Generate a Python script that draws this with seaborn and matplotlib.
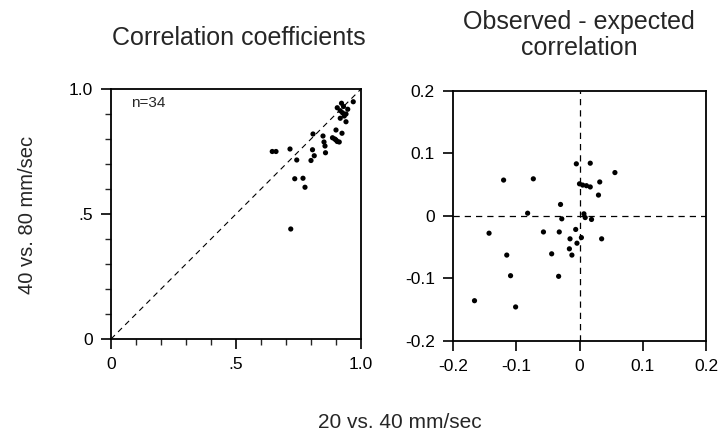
import matplotlib
matplotlib.use("Agg")
import matplotlib.pyplot as plt
from matplotlib.ticker import MultipleLocator
import seaborn as sns
import pandas as pd

# Left panel: correlation coefficients (20 vs 40 mm/sec on x, 40 vs 80 mm/sec on y)
corr_x = [0.645, 0.660, 0.716, 0.743, 0.735, 0.768, 0.776, 0.719, 0.808, 0.806,
          0.813, 0.800, 0.848, 0.852, 0.856, 0.858, 0.886, 0.900, 0.913, 0.900,
          0.924, 0.917, 0.940, 0.933, 0.917, 0.926, 0.947, 0.922, 0.969, 0.905,
          0.930, 0.940, 0.905, 0.895]
corr_y = [0.750, 0.750, 0.760, 0.716, 0.641, 0.643, 0.607, 0.440, 0.820, 0.757,
          0.733, 0.714, 0.812, 0.788, 0.772, 0.745, 0.805, 0.796, 0.788, 0.836,
          0.823, 0.883, 0.869, 0.892, 0.913, 0.905, 0.919, 0.943, 0.949, 0.790,
          0.930, 0.900, 0.925, 0.800]

# Right panel: observed - expected correlation
diff_x = [-0.005, 0.017, 0.056, 0.000, 0.005, 0.011, 0.017, 0.032, 0.030, -0.030,
          0.007, 0.009, 0.019, -0.028, -0.057, -0.032, -0.006, 0.003, 0.035, -0.015,
          -0.004, -0.016, -0.012, -0.044, -0.120, -0.073, -0.082, -0.143, -0.115,
          -0.109, -0.033, -0.166, -0.101]
diff_y = [0.083, 0.084, 0.069, 0.051, 0.049, 0.048, 0.046, 0.054, 0.033, 0.018,
          0.003, -0.003, -0.006, -0.005, -0.026, -0.026, -0.022, -0.035, -0.037, -0.037,
          -0.044, -0.053, -0.063, -0.061, 0.057, 0.059, 0.004, -0.028, -0.063,
          -0.096, -0.097, -0.136, -0.146]

left_ticks = [0, 0.5, 1.0]
left_ticklabels = ["0", ".5", "1.0"]
right_ticks = [-0.2, -0.1, 0, 0.1, 0.2]
right_ticklabels = ["-0.2", "-0.1", "0", "0.1", "0.2"]

sns.set_style("ticks")
plt.rcParams['font.family'] = ['Liberation Sans', 'DejaVu Sans']

fig = plt.figure(figsize=(7.2, 4.4), dpi=100)
ax1 = fig.add_axes([111/720, 101/440, 250/720, 250/440])
ax2 = fig.add_axes([453/720, 99.3/440, 253/720, 250/440])

df1 = pd.DataFrame({"x": corr_x, "y": corr_y})
df2 = pd.DataFrame({"x": diff_x, "y": diff_y})

sns.scatterplot(data=df1, x="x", y="y", ax=ax1, color="black", s=14,
                edgecolor="none", zorder=3)
sns.scatterplot(data=df2, x="x", y="y", ax=ax2, color="black", s=14,
                edgecolor="none", zorder=3)

ax1.plot([0, 1], [0, 1], ls=(0, (5, 4)), color="black", lw=0.8)
ax2.axhline(0, ls=(0, (5, 4)), color="black", lw=0.9)
ax2.axvline(0, ls=(0, (5, 4)), color="black", lw=0.9)

ax1.set_xlim(0, 1)
ax1.set_ylim(0, 1)
ax2.set_xlim(-0.2, 0.2)
ax2.set_ylim(-0.2, 0.2)

ax1.set_xticks(left_ticks)
ax1.set_xticklabels(left_ticklabels)
ax1.set_yticks(left_ticks)
ax1.set_yticklabels(left_ticklabels)
ax1.xaxis.set_minor_locator(MultipleLocator(0.1))
ax1.yaxis.set_minor_locator(MultipleLocator(0.1))

ax2.set_xticks(right_ticks)
ax2.set_xticklabels(right_ticklabels)
ax2.set_yticks(right_ticks)
ax2.set_yticklabels(right_ticklabels)

for ax in (ax1, ax2):
    ax.set_xlabel("")
    ax.set_ylabel("")
    for sp in ax.spines.values():
        sp.set_visible(True)
        sp.set_linewidth(1.3)
        sp.set_color("black")
    ax.tick_params(which="major", direction="out", length=7, width=1.2,
                   labelsize=12.5, colors="black", pad=6)
    ax.tick_params(which="minor", direction="out", length=4.5, width=1.0)
    ax.tick_params(top=False, right=False, which="both")

ax1.text(0.08, 0.945, "n=34", fontsize=11, ha="left", va="center")

fig.text(239/720, 1 - 38/440, "Correlation coefficients", ha="center", va="center",
         fontsize=18)
fig.text(579/720, 1 - 35/440, "Observed - expected\ncorrelation", ha="center",
         va="center", fontsize=18, linespacing=1.1)
fig.text(28/720, 1 - 215/440, "40 vs. 80 mm/sec", rotation=90, ha="center",
         va="center", fontsize=14.5)
fig.text(400/720, 1 - 422/440, "20 vs. 40 mm/sec", ha="center", va="center",
         fontsize=15)

fig.savefig("out.png", dpi=100)
